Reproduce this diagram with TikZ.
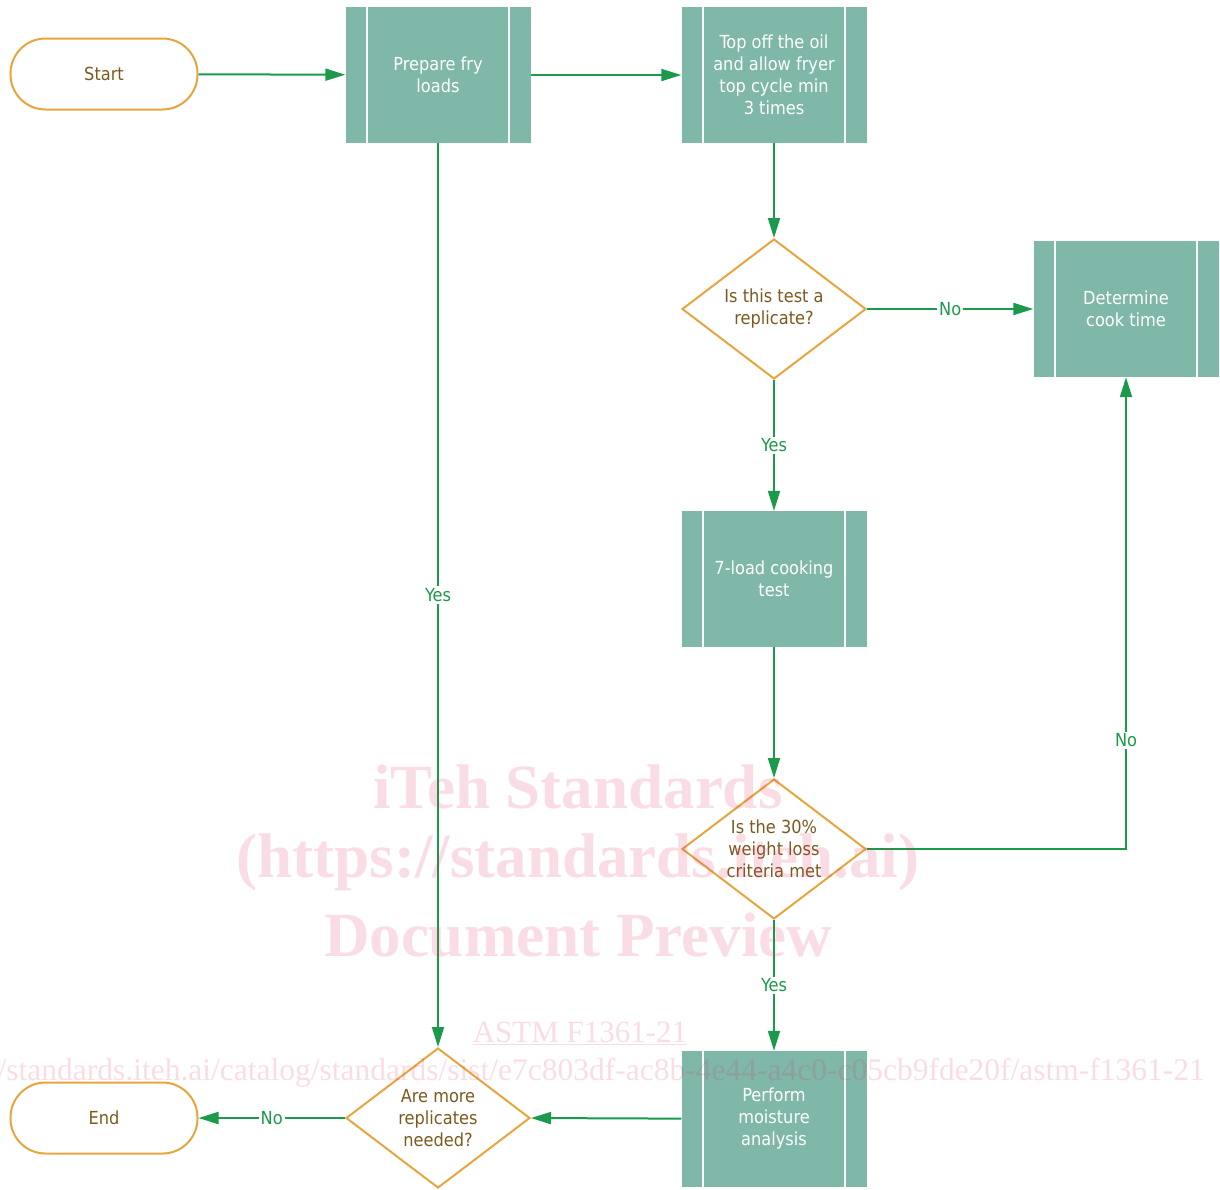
\documentclass[tikz,border=0pt]{standalone}
\usepackage{fontspec}
\setmainfont{DejaVu Sans Condensed}
\newfontfamily\wmfont{Liberation Serif}
\usetikzlibrary{shapes.geometric,arrows.meta}
\definecolor{flowgreen}{RGB}{26,154,74}
\definecolor{boxteal}{RGB}{127,183,168}
\definecolor{rimorange}{RGB}{232,165,62}
\definecolor{txtbrown}{RGB}{122,90,30}
\definecolor{wmpink}{RGB}{225,40,90}

\begin{document}
\begin{tikzpicture}[ x=1pt, y=-1pt, >={Triangle[length=20pt,width=12pt]},
        font=\fontsize{18}{22}\selectfont,
        terminal/.style={ draw=rimorange, line width=2pt, rounded
          corners=35pt, minimum width=187pt, minimum height=71pt,
          text=txtbrown },
        process/.style={ fill=boxteal, minimum width=185pt, minimum
          height=136pt, align=center, text=white, path picture={
            \foreach \s in {-1,1} \draw[white,line width=2pt]
            ([xshift=\s*71pt]path picture bounding box.north) --
            ([xshift=\s*71pt]path picture bounding box.south);} },
        decision/.style={ diamond, draw=rimorange, line width=2pt,
          minimum width=184pt, minimum height=140pt, aspect=1.31,
          inner sep=0pt, align=center, text=txtbrown },
        flow/.style={ ->, draw=flowgreen, line width=2pt },
        answer/.style={ fill=white, text=flowgreen, inner sep=2pt },
        wm/.style={ text=wmpink, text opacity=.16, inner sep=0pt } ]
        \useasboundingbox (0,0) rectangle (1220,1189);
        \clip (0,0) rectangle (1220,1189);

        % terminals
        \node[terminal] (start) at (104,74) {Start};
        \node[terminal] (stop) at (104,1118) {End};

        % predefined processes
        \foreach \n/\x/\y/\t in {prep/438/75/{Prepare fry\\loads},
          topoff/774/75/{Top off the oil\\and allow fryer\\top cycle
            min\\3 times}, cook/1126/309/{Determine\\cook time},
          load/774/579/{7-load cooking\\test},
          moist/774/1119/{Perform\\moisture\\analysis}}
        \node[process] (\n) at (\x,\y) {\t};

        % decisions
        \node[decision] (q1) at (774,309) {Is this test a\\replicate?};
        \node[decision] (q2) at (774,849) {Is the 30\%\\weight
          loss\\criteria met};
        \node[decision] (q3) at (438,1118) {Are more\\replicates\\needed?};

        \draw[flow] (start) -- (prep); \draw[flow] (prep) -- (topoff);
        \draw[flow] (topoff) -- (q1);
        \draw[flow] (q1) -- node[answer] {No} (cook);
        \draw[flow] (q1) -- node[answer] {Yes} (load);
        \draw[flow] (load) -- (q2);
        \draw[flow] (q2.east) -| node[answer,pos=.615] {No} (cook);
        \draw[flow] (q2) -- node[answer] {Yes} (moist);
        \draw[flow] (moist) -- (q3.east);
        \draw[flow] (prep) -- node[answer] {Yes} (q3);
        \draw[flow] (q3) -- node[answer] {No} (stop);

        % watermark
        \node[wm,font=\wmfont\bfseries\fontsize{63}{63}\selectfont]
        (wm1) at (578,787) {iTeh Standards};
        \node[wm,font=\wmfont\bfseries\fontsize{63}{63}\selectfont]
        (wm2) at (578,862) {(https://standards.iteh.ai)};
        \node[wm,font=\wmfont\bfseries\fontsize{63}{63}\selectfont]
        (wm3) at (578,935) {Document Preview};
        \node[wm,font=\wmfont\fontsize{31}{31}\selectfont]
        (wm4) at (580,1033) {\underline{ASTM F1361-21}};
        \node[wm,font=\wmfont\fontsize{31.5}{31.5}\selectfont,anchor=east]
        (wm5) at (1205,1073)
        {https://standards.iteh.ai/catalog/standards/sist/e7c803df-ac8b-4e44-a4c0-c05cb9fde20f/astm-f1361-21};
      \end{tikzpicture}
\end{document}
